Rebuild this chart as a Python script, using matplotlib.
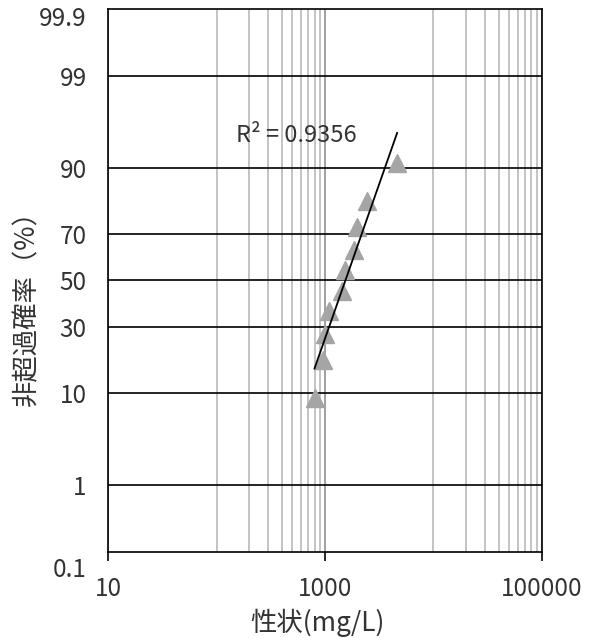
import numpy as np
import matplotlib
matplotlib.use('Agg')
import matplotlib.pyplot as plt
from matplotlib.ticker import NullFormatter, NullLocator
from matplotlib.transforms import blended_transform_factory, ScaledTranslation
from statistics import NormalDist

plt.rcParams['font.family'] = ['Noto Sans CJK JP', 'DejaVu Sans']
TXT = '#333333'

# data (concentration vs. plotting position, %)
conc = [800, 960, 990, 1100, 1430, 1540, 1840, 1980, 2440, 4630]
prob = [9.09, 18.18, 27.27, 36.36, 45.45, 54.55, 63.64, 72.73, 81.82, 90.91]
r2_text = 'R² = 0.9356'

x_major = [10, 1000, 100000]
x_major_labels = ['10', '1000', '100000']
x_minor = [100, 200, 300, 400, 500, 600, 700, 800, 900,
           10000, 20000, 30000, 40000, 50000, 60000, 70000, 80000, 90000]
y_major = [1, 10, 30, 50, 70, 90, 99]
y_edge = [0.1, 99.9]

_nd = NormalDist()
_ppf = np.vectorize(lambda v: _nd.inv_cdf(v / 100.0), otypes=[float])
_cdf = np.vectorize(lambda v: _nd.cdf(v) * 100.0, otypes=[float])


def fwd(p):
    p = np.clip(np.asarray(p, dtype=float), 1e-9, 100 - 1e-9)
    return _ppf(p)


def inv(z):
    return _cdf(np.asarray(z, dtype=float))


fig = plt.figure(figsize=(5.97, 6.38), dpi=100)
fig.patch.set_facecolor('white')
ax = fig.add_axes([0.1814, 0.1353, 0.726, 0.8501])
ax.set_xscale('log')
ax.set_yscale('function', functions=(fwd, inv))
ax.set_xlim(10, 100000)
ax.set_ylim(0.1, 99.9)

# ticks / grid
ax.set_xticks(x_major, labels=x_major_labels)
ax.set_xticks(x_minor, minor=True)
ax.xaxis.set_minor_formatter(NullFormatter())
ax.set_yticks(y_major, labels=[str(v) for v in y_major])
ax.yaxis.set_minor_locator(NullLocator())

ax.grid(which='minor', axis='x', color='#c4c4c4', lw=1.4)
ax.grid(which='major', axis='x', color='#a0a0a0', lw=1.4)
ax.grid(which='major', axis='y', color='black', lw=1.2)
ax.set_axisbelow(True)

ax.tick_params(axis='x', which='major', length=6.5, width=1.2, direction='out',
               pad=11, labelsize=17.5, labelcolor=TXT)
ax.tick_params(axis='x', which='minor', length=0)
ax.tick_params(axis='y', length=0, pad=15.5, labelsize=17.5, labelcolor=TXT)
for s in ax.spines.values():
    s.set_linewidth(1.2)
    s.set_color('black')

# edge labels sit a bit below their axis position in the original
trans = blended_transform_factory(ax.transAxes, ax.transData)
for val, dy in zip(y_edge, [-18, -10]):
    ax.text(-0.0498, val, str(val), ha='right', va='center', fontsize=17.5,
            color=TXT, clip_on=False,
            transform=trans + ScaledTranslation(0, dy / 100, fig.dpi_scale_trans))

# points
ax.plot(conc, prob, linestyle='none', marker='^', ms=13.5, color='#a5a5a5',
        mec='#a5a5a5', zorder=3, clip_on=False)

# log trendline (z = a*log10(x) + b)
logx = np.log10(conc)
a, b = np.polyfit(logx, fwd(prob), 1)
xs = np.array([min(conc), max(conc)])
ax.plot(xs, inv(a * np.log10(xs) + b), color='black', lw=1.3, zorder=4)

ax.text(0.2947, 0.768, r2_text, transform=ax.transAxes, ha='left', va='center',
        fontsize=17, color=TXT)

ax.set_xlabel('性状(mg/L)', fontsize=19, color=TXT)
ax.xaxis.set_label_coords(0.483, -0.105)
ax.set_ylabel('非超過確率（%）', fontsize=19, color=TXT)
ax.yaxis.set_label_coords(-0.1576, 0.461)

fig.savefig('out.png', dpi=100, facecolor='white')
